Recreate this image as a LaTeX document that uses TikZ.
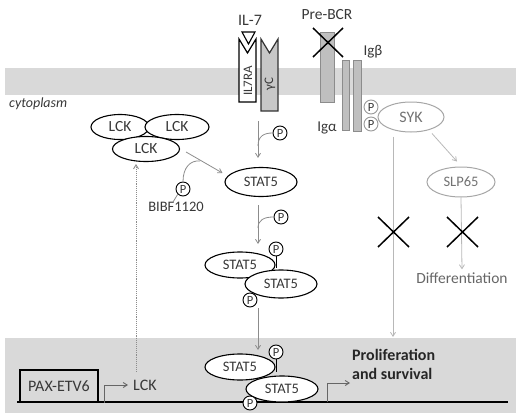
\documentclass[tikz,border=0pt]{standalone}
\usepackage{fontspec}
\setmainfont{Carlito}
\usetikzlibrary{shapes.geometric,arrows.meta,calc}
\definecolor{band}{gray}{0.85}
\definecolor{garr}{gray}{0.55}
\definecolor{lgarr}{gray}{0.72}
\definecolor{txt}{gray}{0.22}
\begin{document}
\begin{tikzpicture}[x=1pt,y=-1pt,
  ell/.style={ellipse,draw=black,line width=1.1pt,fill=white,inner sep=0pt,text=txt,font=\fontsize{14.5}{14.5}\selectfont},
  gell/.style={ellipse,draw=black!35,line width=1pt,fill=white,inner sep=0pt,text=black!55,font=\fontsize{14}{14}\selectfont},
  pc/.style={circle,draw=black,line width=0.9pt,fill=white,inner sep=0pt,minimum size=14pt,text=txt,font=\fontsize{12.5}{12.5}\selectfont},
  gpc/.style={pc,draw=black!40},
  lbl/.style={inner sep=0pt,text=txt,font=\fontsize{15.5}{15.5}\selectfont},
  garrow/.style={draw=garr,line width=0.8pt,-{Straight Barb[length=4pt,width=5pt]}},
  gline/.style={draw=garr,line width=0.8pt},
  lgarrow/.style={draw=lgarr,line width=0.8pt,-{Straight Barb[length=4pt,width=5pt]}},
  xmark/.style={line width=1.5pt,draw=black},
  recbox/.style={fill=black!25,draw=black!45,line width=0.8pt}
]
\useasboundingbox (0,0) rectangle (520,415);
% bands
\fill[band] (5,68) rectangle (516,95);
\fill[band] (5,338) rectangle (516,413);
\node[anchor=west,inner sep=0pt,text=txt,font=\itshape\fontsize{14}{14}\selectfont] (cyto) at (9,104) {cytoplasm};

% IL-7 receptor
\draw[fill=white,draw=black,line width=1.2pt] (239,39) -- (247.5,53) -- (256,39) -- (256,102) -- (239,102) -- cycle;
\draw[fill=black!22,draw=black!80,line width=1.2pt] (261,39) -- (269.5,53) -- (278,39) -- (278,111) -- (261,111) -- cycle;
\draw[fill=white,draw=black,line width=1.1pt] (242,32) -- (255,32) -- (248.5,44) -- cycle;
\node[lbl,rotate=90,font=\fontsize{13}{13}\selectfont] (il7ra) at (248,81) {IL7RA};
\node[lbl,rotate=90,font=\fontsize{13}{13}\selectfont] (gc) at (270,84) {γC};
\node[lbl,font=\fontsize{16}{16}\selectfont] (il7) at (250,20) {IL-7};

% Pre-BCR
\draw[recbox] (320,32) rectangle (334,102);
\draw[recbox] (342,60) rectangle (349,130);
\draw[recbox] (353,60) rectangle (361,131);
\draw[xmark] (313,28) -- (343,57);
\draw[xmark] (343,28) -- (313,57);
\node[lbl] (prebcr) at (327,15) {Pre-BCR};
\node[lbl,font=\fontsize{15}{15}\selectfont] (igb) at (373,52) {Igβ};
\node[lbl,font=\fontsize{15}{15}\selectfont] (iga) at (327,128) {Igα};

% SYK branch
\node[gell,minimum width=66pt,minimum height=30pt,font=\fontsize{16}{16}\selectfont] (syk) at (411,117) {SYK};
\node[gpc] (pb1) at (371,107) {P};
\node[gpc] (pb2) at (371,124) {P};
\node[gell,minimum width=68pt,minimum height=30pt,font=\fontsize{14.5}{14.5}\selectfont] (slp) at (461,182) {SLP65};
\coordinate (nuctop) at (393,337);
\draw[lgarrow] ($(syk.south)+(-18,4)$) -- (nuctop);
\draw[lgarrow] ($(syk.south)+(21,1)$) -- ($(slp.north)+(-4,-5)$);
\node[lbl,text=black!60,font=\fontsize{15.5}{15.5}\selectfont] (diff) at (462,278) {Differentiation};
\draw[lgarrow] (slp.south) -- ($(diff.north)+(0,-3)$);
\draw[xmark] (378,217) -- (409,247);
\draw[xmark] (409,217) -- (378,247);
\draw[xmark] (447,217) -- (478,247);
\draw[xmark] (478,217) -- (447,247);

% LCK cluster
\node[ell,minimum width=58pt,minimum height=25pt,font=\fontsize{15.5}{15.5}\selectfont] (lck1) at (120,127) {LCK};
\node[ell,minimum width=64pt,minimum height=25pt,font=\fontsize{15.5}{15.5}\selectfont] (lck2) at (177,127) {LCK};
\node[ell,minimum width=67pt,minimum height=25pt,font=\fontsize{15.5}{15.5}\selectfont] (lck3) at (146,149) {LCK};

% STAT5 monomer
\node[ell,minimum width=72pt,minimum height=29pt] (stat1) at (261,182) {STAT5};
\coordinate (rec) at (258,121);
\draw[garrow,shorten >=9pt] (rec) -- (rec |- stat1.north);
\node[pc] (p1) at (280,133) {P};
\draw[gline] (258,146) .. controls (258,136) and (264,133) .. (p1.west);

\draw[garrow] ($(lck3.east)+(6,3)$) -- ($(stat1.west)+(-2,-9)$);
\node[pc] (p2) at (183,189) {P};
\draw[gline] (200,161) .. controls (190,160) and (183,168) .. (p2.north);
\node[lbl,font=\fontsize{14.5}{14.5}\selectfont] (bibf) at (176,207) {BIBF1120};
\draw[gline] ($(bibf.north)+(-3,0)$) -- (p2.south west);

% STAT5 dimer (cytoplasm)
\coordinate (s1b) at (258,205);
\draw[garrow] (s1b) -- (258,244);
\node[pc] (p3) at (281,217) {P};
\draw[gline] (258,228) .. controls (258,220) and (264,217) .. (p3.west);
\node[ell,minimum width=70pt,minimum height=26pt] (d1a) at (240,265) {STAT5};
\node[ell,minimum width=72pt,minimum height=28pt] (d1b) at (281,284) {STAT5};
\node[pc] (p4) at (276,249) {P};
\draw[line width=1pt] (p4.south) -- (276,268);
\node[pc] (p5) at (250,300) {P};
\coordinate (d1out) at (258,308);
\draw[garrow] (d1out) -- (258,350);

% nucleus
\draw[line width=1.6pt] (17,402) -- (508,402);
\node[draw=black,line width=1.2pt,fill=band,minimum width=78pt,minimum height=32pt,inner sep=0pt,text=txt,font=\fontsize{16}{16}\selectfont] (pax) at (59,386) {PAX-ETV6};
\node[lbl,anchor=west,font=\fontsize{16}{16}\selectfont] (lcknuc) at (133,385) {LCK};
\draw[draw=black!60,line width=0.9pt,-{Straight Barb[length=4pt,width=5pt]}] ($(pax.south east)+(6,0)$) |- ($(lcknuc.west)+(-5,0)$);
\draw[draw=black!45,line width=0.9pt,densely dotted,-{Straight Barb[length=4pt,width=5pt]}] ($(lcknuc.north west)+(3,-8)$) -- ($(lck3.south)+(-10,2)$);

\node[ell,minimum width=70pt,minimum height=26pt] (n1a) at (240,367) {STAT5};
\node[ell,minimum width=72pt,minimum height=26pt] (n1b) at (282,389) {STAT5};
\node[pc] (p6) at (276,352) {P};
\draw[line width=1pt] (p6.south) -- (276,372);
\node[pc] (p7) at (250,403) {P};

\node[anchor=north west,align=left,inner sep=0pt,text=black!85,font=\bfseries\fontsize{16}{19.5}\selectfont] (prolif) at (352,349) {Proliferation\\and survival};
\coordinate (pstart) at (327,402);
\draw[draw=black!60,line width=0.9pt,-{Straight Barb[length=4pt,width=5pt]}] (pstart) |- (350,383);
\end{tikzpicture}
\end{document}
